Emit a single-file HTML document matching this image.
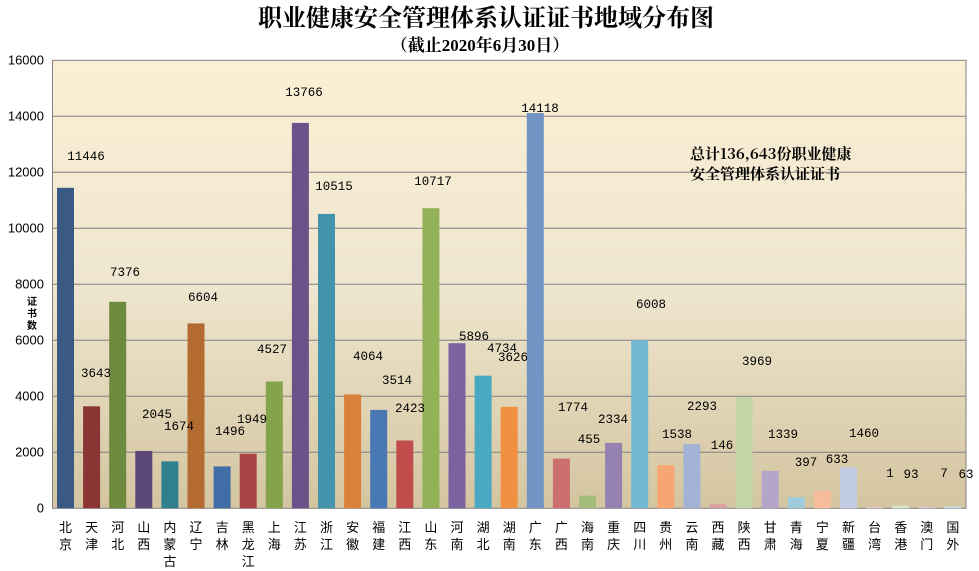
<!DOCTYPE html>
<html><head><meta charset="utf-8"><style>
html,body{margin:0;padding:0;background:#fff;}
svg{display:block;}
.t{font-family:"Liberation Serif","Noto Serif CJK SC",serif;}
.v{font-family:"Liberation Mono","Noto Sans CJK SC",monospace;font-size:12.5px;fill:#000;text-anchor:middle;dominant-baseline:central;}
.y{font-family:"Liberation Sans",sans-serif;font-size:13px;text-anchor:end;dominant-baseline:central;}
.x{font-family:"Noto Sans CJK SC",sans-serif;font-size:13px;text-anchor:middle;}
</style></head><body>
<svg width="979" height="571" xmlns="http://www.w3.org/2000/svg">
<defs><linearGradient id="bg" x1="0" y1="0" x2="0" y2="1">
<stop offset="0" stop-color="#fcefd5"/><stop offset="0.5" stop-color="#efe6cf"/><stop offset="1" stop-color="#d4c5a0"/></linearGradient></defs>
<text class="t" x="486" y="26" font-size="24" font-weight="bold" text-anchor="middle">职业健康安全管理体系认证证书地域分布图</text>
<text class="t" x="480" y="51" font-size="17" font-weight="bold" text-anchor="middle">（截止2020年6月30日）</text>
<rect x="52.5" y="60.3" width="913.5" height="448" fill="url(#bg)" stroke="#808080"/>
<g stroke="#808080" stroke-width="1">
<line x1="52.5" x2="966" y1="116.3" y2="116.3"/><line x1="52.5" x2="966" y1="172.3" y2="172.3"/>
<line x1="52.5" x2="966" y1="228.3" y2="228.3"/><line x1="52.5" x2="966" y1="284.3" y2="284.3"/>
<line x1="52.5" x2="966" y1="340.3" y2="340.3"/><line x1="52.5" x2="966" y1="396.3" y2="396.3"/>
<line x1="52.5" x2="966" y1="452.3" y2="452.3"/>
</g>
<g class="y">
<text x="44" y="60">16000</text><text x="44" y="116">14000</text><text x="44" y="172">12000</text>
<text x="44" y="228">10000</text><text x="44" y="284">8000</text><text x="44" y="340">6000</text>
<text x="44" y="396">4000</text><text x="44" y="452">2000</text><text x="44" y="508">0</text>
</g>
<g font-family="Noto Sans CJK SC,sans-serif" font-size="10" font-weight="bold" text-anchor="middle">
<text x="32" y="305">证</text><text x="32" y="317">书</text><text x="32" y="329">数</text></g>
<g>
<rect x="57" y="187.8" width="17" height="320.5" fill="#3a5a85"/>
<rect x="83.1" y="406.3" width="17" height="102" fill="#8b3535"/>
<rect x="109.2" y="301.8" width="17" height="206.5" fill="#6e8a3e"/>
<rect x="135.3" y="451" width="17" height="57.3" fill="#5b4878"/>
<rect x="161.4" y="461.4" width="17" height="46.9" fill="#2f7f8f"/>
<rect x="187.5" y="323.4" width="17" height="184.9" fill="#b36b30"/>
<rect x="213.6" y="466.4" width="17" height="41.9" fill="#416da6"/>
<rect x="239.7" y="453.7" width="17" height="54.6" fill="#a84343"/>
<rect x="265.8" y="381.5" width="17" height="126.8" fill="#85a34a"/>
<rect x="291.9" y="122.9" width="17" height="385.4" fill="#6b5389"/>
<rect x="318" y="213.9" width="17" height="294.4" fill="#4293ab"/>
<rect x="344.1" y="394.5" width="17" height="113.8" fill="#d9813a"/>
<rect x="370.2" y="409.9" width="17" height="98.4" fill="#4a78b5"/>
<rect x="396.3" y="440.5" width="17" height="67.8" fill="#c04c4c"/>
<rect x="422.4" y="208.2" width="17" height="300.1" fill="#93b156"/>
<rect x="448.5" y="343.2" width="17" height="165.1" fill="#7b63a0"/>
<rect x="474.6" y="375.7" width="17" height="132.6" fill="#4aa8c2"/>
<rect x="500.7" y="406.8" width="17" height="101.5" fill="#ef9140"/>
<rect x="526.8" y="113" width="17" height="395.3" fill="#7294c5"/>
<rect x="552.9" y="458.6" width="17" height="49.7" fill="#cc6e6d"/>
<rect x="579" y="495.6" width="17" height="12.7" fill="#a4bd7a"/>
<rect x="605.1" y="442.9" width="17" height="65.4" fill="#9582b0"/>
<rect x="631.2" y="340.1" width="17" height="168.2" fill="#74b8d0"/>
<rect x="657.3" y="465.2" width="17" height="43.1" fill="#f5a672"/>
<rect x="683.4" y="444.1" width="17" height="64.2" fill="#a3b3d6"/>
<rect x="709.5" y="504.2" width="17" height="4.1" fill="#d8a0a0"/>
<rect x="735.6" y="397.2" width="17" height="111.1" fill="#c2d5a5"/>
<rect x="761.7" y="470.8" width="17" height="37.5" fill="#b3a6c8"/>
<rect x="787.8" y="497.2" width="17" height="11.1" fill="#9fcbdc"/>
<rect x="813.9" y="490.6" width="17" height="17.7" fill="#f7bc9a"/>
<rect x="840" y="467.4" width="17" height="40.9" fill="#c2cde3"/>
<rect x="866.1" y="507" width="17" height="1.3" fill="#e6c6c6"/>
<rect x="892.2" y="505.7" width="17" height="2.6" fill="#dbe5cc"/>
<rect x="918.3" y="507" width="17" height="1.3" fill="#cfc6dd"/>
<rect x="944.4" y="506.5" width="17" height="1.8" fill="#c6dfe9"/>
</g>
<g class="v">
<text x="86" y="157">11446</text><text x="96" y="374">3643</text><text x="125" y="273">7376</text>
<text x="157" y="415">2045</text><text x="179" y="427">1674</text><text x="203" y="298">6604</text>
<text x="230" y="432">1496</text><text x="252" y="420">1949</text><text x="272" y="350">4527</text>
<text x="304" y="93">13766</text><text x="334" y="187">10515</text><text x="368" y="357">4064</text>
<text x="397" y="381">3514</text><text x="410" y="409">2423</text><text x="433" y="182">10717</text>
<text x="474" y="337">5896</text><text x="502" y="349">4734</text><text x="513" y="358">3626</text>
<text x="540" y="109">14118</text><text x="573" y="408">1774</text><text x="589" y="440">455</text>
<text x="613" y="420">2334</text><text x="651" y="305">6008</text><text x="677" y="435">1538</text>
<text x="702" y="407">2293</text><text x="722" y="446">146</text><text x="757" y="362">3969</text>
<text x="783" y="435">1339</text><text x="806" y="463">397</text><text x="837" y="460">633</text>
<text x="864" y="434">1460</text><text x="890" y="474">1</text><text x="911" y="475">93</text>
<text x="944" y="474">7</text><text x="966" y="475">63</text>
</g>
<g font-family="Noto Serif CJK SC,serif" font-size="15" font-weight="bold">
<text x="690" y="159">总计136,643份职业健康</text>
<text x="690" y="179">安全管理体系认证证书</text></g>
<g class="x">
<text x="65.5" y="532">北</text><text x="65.5" y="549">京</text>
<text x="91.6" y="532">天</text><text x="91.6" y="549">津</text>
<text x="117.7" y="532">河</text><text x="117.7" y="549">北</text>
<text x="143.8" y="532">山</text><text x="143.8" y="549">西</text>
<text x="169.9" y="532">内</text><text x="169.9" y="549">蒙</text><text x="169.9" y="566">古</text>
<text x="196" y="532">辽</text><text x="196" y="549">宁</text>
<text x="222.1" y="532">吉</text><text x="222.1" y="549">林</text>
<text x="248.2" y="532">黑</text><text x="248.2" y="549">龙</text><text x="248.2" y="566">江</text>
<text x="274.3" y="532">上</text><text x="274.3" y="549">海</text>
<text x="300.4" y="532">江</text><text x="300.4" y="549">苏</text>
<text x="326.5" y="532">浙</text><text x="326.5" y="549">江</text>
<text x="352.6" y="532">安</text><text x="352.6" y="549">徽</text>
<text x="378.7" y="532">福</text><text x="378.7" y="549">建</text>
<text x="404.8" y="532">江</text><text x="404.8" y="549">西</text>
<text x="430.9" y="532">山</text><text x="430.9" y="549">东</text>
<text x="457" y="532">河</text><text x="457" y="549">南</text>
<text x="483.1" y="532">湖</text><text x="483.1" y="549">北</text>
<text x="509.2" y="532">湖</text><text x="509.2" y="549">南</text>
<text x="535.3" y="532">广</text><text x="535.3" y="549">东</text>
<text x="561.4" y="532">广</text><text x="561.4" y="549">西</text>
<text x="587.5" y="532">海</text><text x="587.5" y="549">南</text>
<text x="613.6" y="532">重</text><text x="613.6" y="549">庆</text>
<text x="639.7" y="532">四</text><text x="639.7" y="549">川</text>
<text x="665.8" y="532">贵</text><text x="665.8" y="549">州</text>
<text x="691.9" y="532">云</text><text x="691.9" y="549">南</text>
<text x="718" y="532">西</text><text x="718" y="549">藏</text>
<text x="744.1" y="532">陕</text><text x="744.1" y="549">西</text>
<text x="770.2" y="532">甘</text><text x="770.2" y="549">肃</text>
<text x="796.3" y="532">青</text><text x="796.3" y="549">海</text>
<text x="822.4" y="532">宁</text><text x="822.4" y="549">夏</text>
<text x="848.5" y="532">新</text><text x="848.5" y="549">疆</text>
<text x="874.6" y="532">台</text><text x="874.6" y="549">湾</text>
<text x="900.7" y="532">香</text><text x="900.7" y="549">港</text>
<text x="926.8" y="532">澳</text><text x="926.8" y="549">门</text>
<text x="952.9" y="532">国</text><text x="952.9" y="549">外</text>
</g>
</svg>
</body></html>
